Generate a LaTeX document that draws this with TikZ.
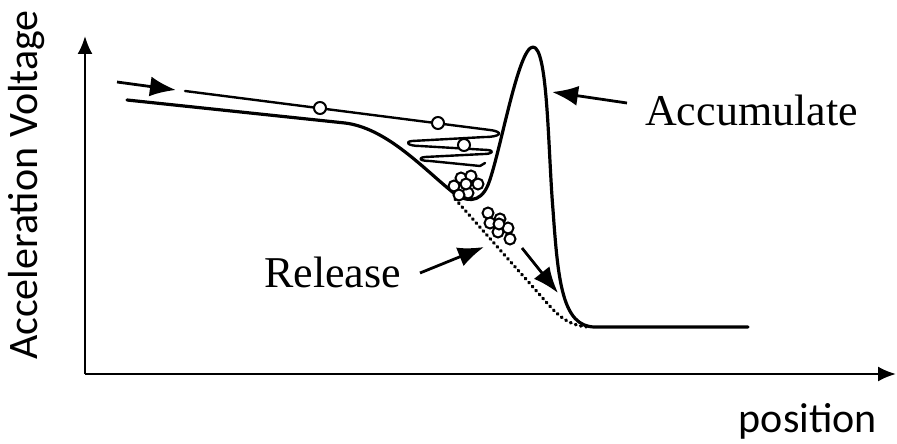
\documentclass[tikz,border=0pt]{standalone}
\usepackage{fontspec}
\setmainfont{Liberation Serif}
\newfontfamily\axisfont{Carlito}
\usetikzlibrary{arrows.meta}
\tikzset{
  axis/.style={line width=2.2pt,-{Latex[length=18pt,width=15pt]}},
  curve/.style={line width=3.2pt,line join=round,line cap=round},
  beam/.style={line width=2.4pt,line join=round,line cap=round},
  pointer/.style={line width=2.8pt,-{Latex[length=26pt,width=20pt]}},
  particle/.style={circle,draw,line width=2pt,fill=white,minimum size=12pt,inner sep=0pt},
  axislabel/.style={font=\axisfont\fontsize{42}{50}\selectfont,inner sep=0pt},
  label/.style={font=\fontsize{44}{52}\selectfont,inner sep=0pt}
}
\begin{document}
\begin{tikzpicture}[x=1pt,y=-1pt]
\useasboundingbox (0,0) rectangle (897,444);
% axes
\coordinate (O) at (85,374);
\coordinate (Ytip) at (85,36);
\coordinate (Xtip) at (896,374);
\draw[axis] (O) -- (Ytip);
\draw[axis] (O) -- (Xtip);
\node[axislabel,rotate=90] (ylab) at (27,185) {Acceleration Voltage};
\node[axislabel,anchor=base east] (xlab) at (877,432) {position};
% potential curve
\draw[curve] (127,100) -- (345,123)
  .. controls (385,128) and (420,165) .. (450,190)
  .. controls (465,203) and (480,204) .. (488,185)
  .. controls (500,155) and (518,47) .. (533,47)
  .. controls (548,47) and (548,150) .. (553,210)
  .. controls (558,280) and (562,327) .. (595,327) -- (748,327);
% released potential (dotted)
\draw[line width=3.4pt,line cap=round,dash pattern=on 0.8pt off 4.5pt] (455,199) -- (540,295)
  .. controls (555,312) and (565,326) .. (590,327);
% incoming arrow
\coordinate (inA) at (117,82);
\coordinate (inB) at (176,90);
\draw[pointer] (inA) -- (inB);
% beam with spiral
\draw[beam] (185,91) -- (490,130)
  .. controls (505,132) and (500,137) .. (485,137) -- (412,141)
  .. controls (404,142) and (408,146) .. (420,146) -- (488,150)
  .. controls (495,151) and (492,154) .. (484,154) -- (425,157)
  .. controls (417,158) and (420,161) .. (430,161) -- (480,166) -- (485,163);
\node[particle] (p1) at (320,108) {};
\node[particle] (p2) at (438,123) {};
\node[particle] (p3) at (464,145) {};
% accumulated bunch
\foreach \n/\px/\py in {a/454/186,b/461/178,c/471/176,d/478/184,e/468/193,f/459/195,g/466/184}
  \node[particle,minimum size=11pt] (\n) at (\px,\py) {};
% released bunch
\foreach \n/\px/\py in {r1/488/213,r2/490/223,r3/500/219,r4/508/228,r5/498/232,r6/510/239,r7/499/224}
  \node[particle,minimum size=11pt] (\n) at (\px,\py) {};
% movement arrow
\coordinate (mA) at (522,248);
\coordinate (mB) at (558,293);
\draw[pointer] (mA) -- (mB);
% labels
\node[label,anchor=base west] (acc) at (645,125) {Accumulate};
\coordinate (accTip) at (552,92);
\draw[pointer] (627,103) -- (accTip);
\node[label,anchor=base west] (rel) at (264,287) {Release};
\coordinate (relTip) at (484,247);
\draw[pointer] (420,273) -- (relTip);
\end{tikzpicture}
\end{document}
